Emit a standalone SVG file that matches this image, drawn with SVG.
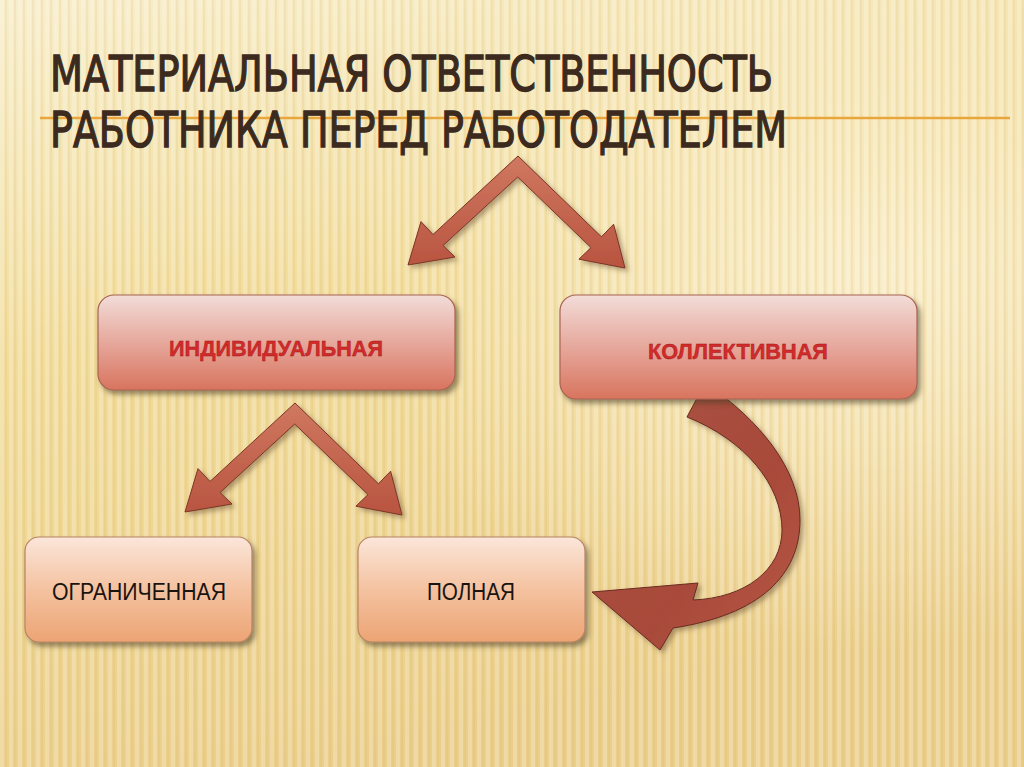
<svg xmlns="http://www.w3.org/2000/svg" width="1024" height="767" viewBox="0 0 1024 767">
<style>
.title{font-family:"Liberation Sans Narrow","DejaVu Sans Condensed","Liberation Sans",sans-serif;font-size:50px;fill:#3b2a1d;stroke:#3b2a1d;stroke-width:1.3}
.red{font-family:"Liberation Sans","DejaVu Sans",sans-serif;font-size:22px;font-weight:bold;fill:#d42a2a;stroke:#9a1a1a;stroke-width:0.4;text-anchor:middle}
.blk{font-family:"Liberation Sans","DejaVu Sans",sans-serif;font-size:23px;fill:#1a1410;text-anchor:middle}
.pink{fill:url(#gPink);stroke:#a86452;stroke-width:1.2}
.peach{fill:url(#gPeach);stroke:#b88462;stroke-width:1.2}
.arr{fill:url(#gArr);stroke:#7c3626;stroke-width:1}
</style>
<defs>
<linearGradient id="gBg" x1="0" y1="0" x2="0.3" y2="1">
<stop offset="0" stop-color="#f8eecb"/>
<stop offset="0.45" stop-color="#f2dc9a"/>
<stop offset="1" stop-color="#ebce8a"/>
</linearGradient>
<radialGradient id="gGlow" cx="0.85" cy="0.35" r="0.5">
<stop offset="0" stop-color="#fbf1d2" stop-opacity="0.8"/>
<stop offset="1" stop-color="#fbf1d2" stop-opacity="0"/>
</radialGradient>
<pattern id="stripes" width="9" height="20" patternUnits="userSpaceOnUse">
<rect width="4" height="20" fill="#ffffff" opacity="0.22"/>
<rect x="5" width="2" height="20" fill="#c9a860" opacity="0.12"/>
</pattern>
<linearGradient id="gPink" x1="0" y1="0" x2="0" y2="1">
<stop offset="0" stop-color="#f2dcd8"/>
<stop offset="0.5" stop-color="#e6a89c"/>
<stop offset="1" stop-color="#d8745e"/>
</linearGradient>
<linearGradient id="gPeach" x1="0" y1="0" x2="0" y2="1">
<stop offset="0" stop-color="#fbe6da"/>
<stop offset="0.5" stop-color="#f4c2a0"/>
<stop offset="1" stop-color="#eca474"/>
</linearGradient>
<linearGradient id="gArr" x1="0" y1="0" x2="0" y2="1">
<stop offset="0" stop-color="#d07860"/>
<stop offset="1" stop-color="#b85440"/>
</linearGradient>
<linearGradient id="gCurve" x1="0" y1="0" x2="1" y2="1">
<stop offset="0" stop-color="#a85446"/>
<stop offset="0.6" stop-color="#a84a3a"/>
<stop offset="1" stop-color="#b85846"/>
</linearGradient>
<filter id="sh" x="-10%" y="-10%" width="125%" height="130%">
<feDropShadow dx="3" dy="4" stdDeviation="2.5" flood-color="#4a3a24" flood-opacity="0.55"/>
</filter>
<filter id="shA" x="-10%" y="-10%" width="130%" height="130%">
<feDropShadow dx="3" dy="3" stdDeviation="2.5" flood-color="#6a5030" flood-opacity="0.5"/>
</filter>
<polygon id="vArrow" class="arr" points="518,156 601.4,236.8 613.6,224.2 625,268 578.9,259.2 591,247.6 517.7,177 443,245.5 455,257 408,265 421,221.6 433,234.5"/>
</defs>

<rect width="1024" height="767" fill="url(#gBg)"/>
<rect width="1024" height="767" fill="url(#gGlow)"/>
<rect width="1024" height="767" fill="url(#stripes)"/>

<g id="connectors">
<use href="#vArrow" filter="url(#shA)"/>
<use href="#vArrow" transform="translate(-223,247)" filter="url(#shA)"/>
<path d="M705,383 C760,420 800,470 800,520 C800,575 760,615 673,628 L660,650 L592,592 L698,583 L693,600 C745,598 782,570 782,530 C782,485 745,440 687,417 Z" fill="url(#gCurve)" stroke="#6a2a20" stroke-width="1" filter="url(#shA)"/>
</g>

<g id="title">
<line x1="40" y1="118" x2="1010" y2="118" stroke="#e9a63c" stroke-width="2.5"/>
<text class="title" x="50" y="91" textLength="723" lengthAdjust="spacingAndGlyphs">МАТЕРИАЛЬНАЯ ОТВЕТСТВЕННОСТЬ</text>
<text class="title" x="50" y="147" textLength="737" lengthAdjust="spacingAndGlyphs">РАБОТНИКА ПЕРЕД РАБОТОДАТЕЛЕМ</text>
</g>

<g id="node-individ">
<rect class="pink" x="98" y="295" width="357" height="95" rx="16" filter="url(#sh)"/>
<text class="red" x="276" y="356" textLength="214" lengthAdjust="spacingAndGlyphs">ИНДИВИДУАЛЬНАЯ</text>
</g>

<g id="node-collect">
<rect class="pink" x="560" y="295" width="357" height="104" rx="16" filter="url(#sh)"/>
<text class="red" x="738" y="359" textLength="180" lengthAdjust="spacingAndGlyphs">КОЛЛЕКТИВНАЯ</text>
</g>

<g id="node-limited">
<rect class="peach" x="25" y="537" width="227" height="105" rx="14" filter="url(#sh)"/>
<text class="blk" x="139" y="600" textLength="174" lengthAdjust="spacingAndGlyphs">ОГРАНИЧЕННАЯ</text>
</g>

<g id="node-full">
<rect class="peach" x="358" y="537" width="227" height="105" rx="14" filter="url(#sh)"/>
<text class="blk" x="471" y="600" textLength="88" lengthAdjust="spacingAndGlyphs">ПОЛНАЯ</text>
</g>
</svg>
